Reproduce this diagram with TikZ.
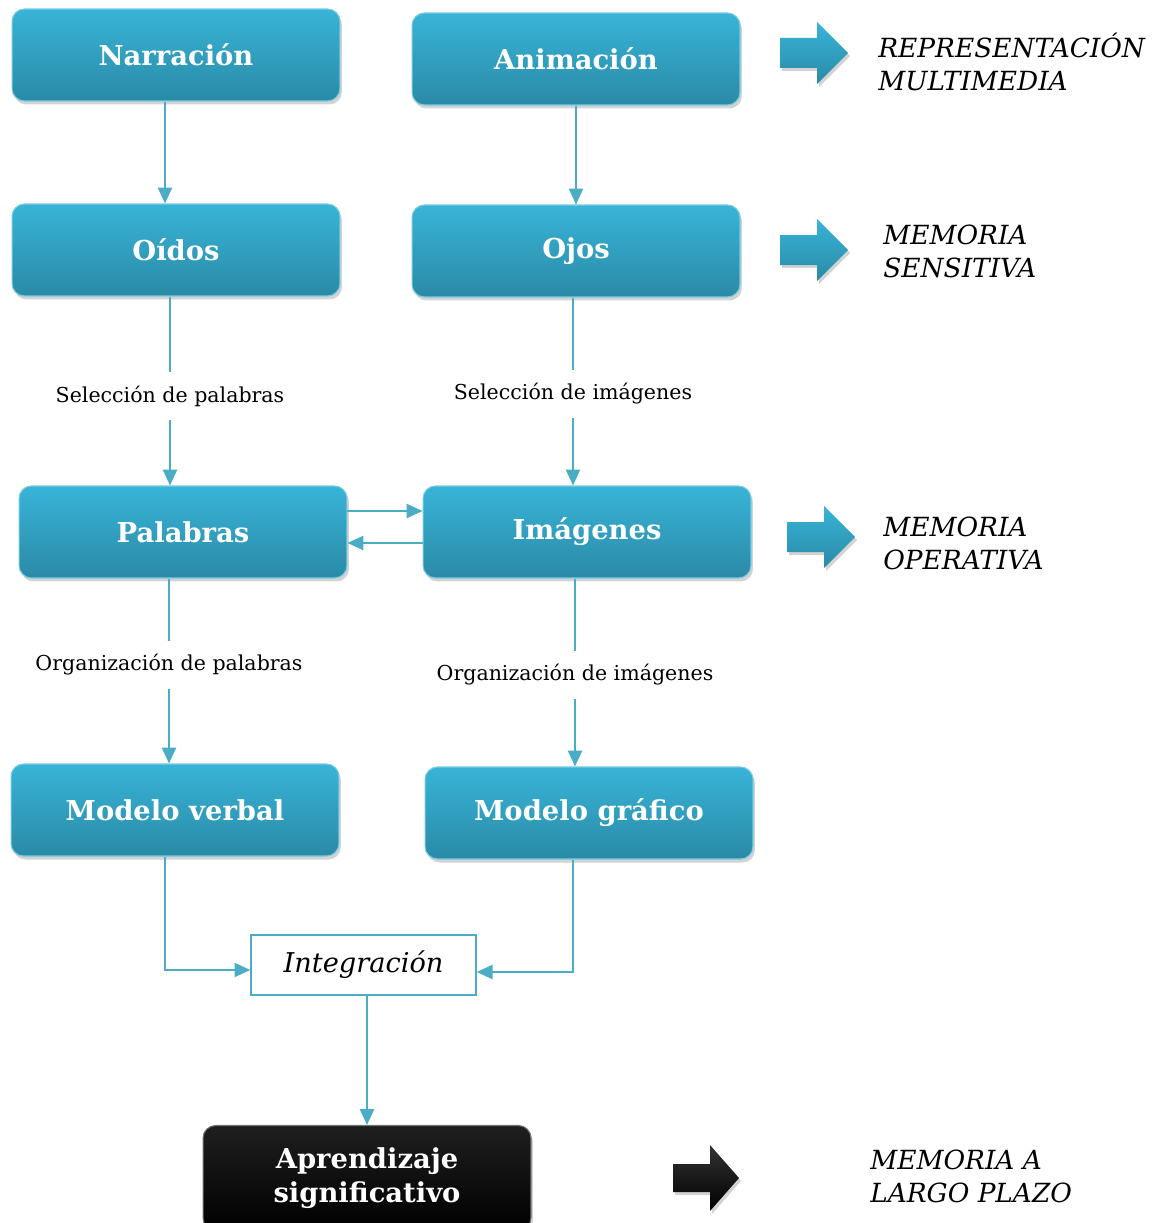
\documentclass[tikz,border=0pt]{standalone}
\usepackage{fontspec}
\setmainfont{DejaVu Serif}
\usetikzlibrary{arrows.meta,shadows}

\definecolor{cajaarriba}{HTML}{38B4D8}
\definecolor{cajaabajo}{HTML}{2A8AA6}
\definecolor{linea}{HTML}{4BACC6}

\begin{document}
\begin{tikzpicture}[x=0.02cm, y=-0.02cm]
    \tikzset{
        etapa/.style={rounded corners=0.25cm, top color=cajaarriba, bottom color=cajaabajo,
            draw=cajaarriba!70!white, line width=0.6pt,
            drop shadow={opacity=0.35, shadow xshift=0.04cm, shadow yshift=-0.07cm},
            minimum width=6.56cm, minimum height=1.84cm, text=white,
            font=\fontsize{15.6}{18}\selectfont\bfseries},
        final/.style={etapa, top color=black!88, bottom color=black, draw=black!55,
            minimum height=2.1cm, align=center, font=\fontsize{15.6}{19.3}\selectfont\bfseries},
        integ/.style={draw=linea, line width=0.8pt, fill=white, minimum width=4.5cm,
            minimum height=1.2cm, font=\fontsize{15.5}{18}\selectfont\itshape},
        proceso/.style={font=\fontsize{11.7}{14}\selectfont, inner xsep=0pt, inner ysep=0.27cm},
        memoria/.style={font=\fontsize{15}{18.7}\selectfont\itshape, align=left,
            anchor=west, inner sep=0pt},
        flecha/.style={draw=linea, line width=1.1pt, -{Triangle[length=9pt,width=8pt]}},
        tramo/.style={draw=linea, line width=1.1pt},
        bloque/.style={top color=cajaarriba, bottom color=cajaabajo,
            drop shadow={opacity=0.35, shadow xshift=0.04cm, shadow yshift=-0.06cm}}
    }

    \useasboundingbox (0,0) rectangle (1157,1223);

    % --- 1. CAJAS ---
    \node[etapa] (narracion) at (176,55)  {Narración};
    \node[etapa] (animacion) at (576,59)  {Animación};
    \node[etapa] (oidos)     at (176,250) {Oídos};
    \node[etapa] (ojos)      at (576,251) {Ojos};
    \node[etapa] (palabras)  at (183,532) {Palabras};
    \node[etapa] (imagenes)  at (587,532) {Imágenes};
    \node[etapa] (mverbal)   at (175,810) {Modelo verbal};
    \node[etapa] (mgrafico)  at (589,813) {Modelo gráfico};
    \node[integ] (integracion) at (363.5,965) {Integración};
    \node[final] (aprendizaje) at (367,1178) {Aprendizaje\\significativo};

    % --- 2. PROCESOS ---
    \node[proceso] (selpal) at (170,396) {Selección de palabras};
    \node[proceso] (selima) at (573,394) {Selección de imágenes};
    \node[proceso] (orgpal) at (169,665) {Organización de palabras};
    \node[proceso] (orgima) at (575,675) {Organización de imágenes};

    % Conectores
    \draw[flecha] ([xshift=-0.22cm]narracion.south) -- ([xshift=-0.22cm]oidos.north);
    \draw[flecha] (animacion) -- (ojos);

    \draw[tramo] (oidos.south -| selpal) -- (selpal.north);
    \draw[flecha] (selpal.south) -- (palabras.north -| selpal);
    \draw[tramo] (ojos.south -| selima) -- (selima.north);
    \draw[flecha] (selima.south) -- (imagenes.north -| selima);

    \draw[flecha] ([yshift=0.42cm]palabras.east) -- ([yshift=0.42cm]palabras.east -| imagenes.west);
    \draw[flecha] ([yshift=-0.22cm]imagenes.west) -- ([yshift=-0.22cm]imagenes.west -| palabras.east);

    \draw[tramo] (palabras.south -| orgpal) -- (orgpal.north);
    \draw[flecha] (orgpal.south) -- (mverbal.north -| orgpal);
    \draw[tramo] (imagenes.south -| orgima) -- (orgima.north);
    \draw[flecha] (orgima.south) -- (mgrafico.north -| orgima);

    \draw[flecha] ([xshift=-0.2cm]mverbal.south) |- ([yshift=-0.1cm]integracion.west);
    \draw[flecha] ([xshift=-0.32cm]mgrafico.south) |- ([yshift=-0.14cm]integracion.east);
    \draw[flecha] ([xshift=0.07cm]integracion.south) -- ([xshift=0.07cm]integracion.south |- aprendizaje.north);

    % --- 3. MEMORIAS ---
    \foreach \x/\y in {780/53, 780/250, 787/537} {
        \path[bloque, shift={(\x,\y)}] (0,-15) -- (37,-15) -- (37,-31) -- (68,0)
            -- (37,31) -- (37,15) -- (0,15) -- cycle;
    }
    \path[bloque, top color=black!80, bottom color=black, shift={(673,1178)}]
        (0,-14) -- (37,-14) -- (37,-33) -- (66,0) -- (37,33) -- (37,14) -- (0,14) -- cycle;

    \node[memoria] (rmultimedia) at (878,62)   {REPRESENTACIÓN\\MULTIMEDIA};
    \node[memoria] (msensitiva)  at (883,251)  {MEMORIA\\SENSITIVA};
    \node[memoria] (moperativa)  at (883,543)  {MEMORIA\\OPERATIVA};
    \node[memoria] (mlargo)      at (870,1176) {MEMORIA A\\LARGO PLAZO};

\end{tikzpicture}
\end{document}
